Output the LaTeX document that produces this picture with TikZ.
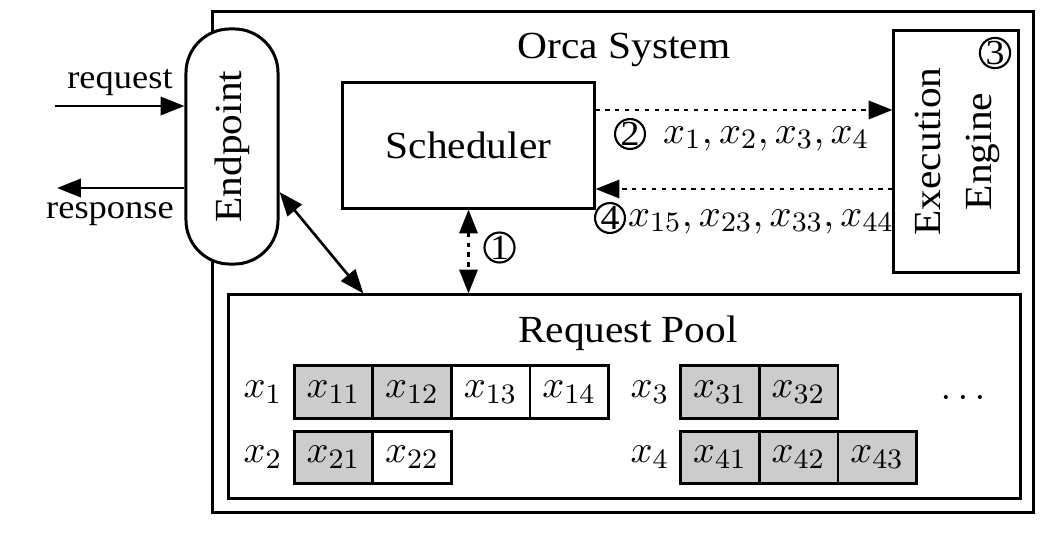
\documentclass[tikz,border=0pt]{standalone}
\usepackage[no-math]{fontspec}
\setmainfont{Liberation Serif}[FakeStretch=1.08]
\usepackage{tikz}
\usetikzlibrary{
  arrows.meta,
  positioning,
  calc
}
\definecolor{isDone}{HTML}{CCCCCC}

\tikzset{
  box/.style={draw, line width=0.85pt, fill=white, inner sep=0pt},
  cell/.style={draw, line width=0.75pt, minimum width=0.785cm, minimum height=0.525cm,
    inner sep=0pt, outer sep=0pt, font=\fontsize{11}{13}\selectfont},
  done/.style={cell, fill=isDone},
  todo/.style={cell, fill=white},
  num/.style={draw, circle, line width=0.6pt, minimum size=0.29cm, inner sep=0pt,
    font=\fontsize{10}{10}\selectfont},
  mlabel/.style={font=\fontsize{11}{13}\selectfont, inner sep=1pt},
  io/.style={font=\fontsize{9.6}{11}\selectfont},
  arr/.style={line width=0.75pt, -{Triangle[length=6.8pt,width=5.2pt]}},
  darr/.style={line width=0.75pt, {Triangle[length=6.8pt,width=5.2pt]}-{Triangle[length=6.8pt,width=5.2pt]}},
  dotline/.style={dash pattern=on 1.2pt off 1.6pt}
}

\begin{document}
\begin{tikzpicture}[x=0.01cm, y=-0.01cm, font=\fontsize{10.9}{13.5}\selectfont]
  \useasboundingbox (0,0) rectangle (1064,542);
  % system frame
  \node[box, minimum width=8.2cm, minimum height=5cm] (orca) at (623,262) {};
  \node (title) at (624,50) {Orca System};
  % endpoint
  \node[box, rounded corners=0.44cm, minimum width=0.92cm, minimum height=2.35cm]
    (endpoint) at (232,146.5) {\rotatebox{90}{Endpoint}};
  % scheduler and engine
  \node[box, minimum width=2.51cm, minimum height=1.25cm] (scheduler) at (468.5,145.5) {Scheduler};
  \node[box, minimum width=1.24cm, minimum height=2.41cm] (engine) at (956,151.5)
    {\rotatebox{90}{\begin{tabular}{@{}c@{}}Execution\\[1pt]Engine\end{tabular}}};
  \node[num] (n3) at (995,53) {3};
  % request pool
  \node[box, minimum width=7.91cm, minimum height=2.03cm] (pool) at (624.5,396.5) {};
  \node (pooltitle) at (628,333) {Request Pool};
  % row x1
  \node[mlabel] (r1) at (263,392) {$x_1$};
  \node[done] (c11) at (333.5,392) {$x_{11}$};
  \node[done, right=0pt of c11] (c12) {$x_{12}$};
  \node[todo, right=0pt of c12] (c13) {$x_{13}$};
  \node[todo, right=0pt of c13] (c14) {$x_{14}$};
  % row x2
  \node[mlabel] (r2) at (263,457.5) {$x_2$};
  \node[done] (c21) at (333.5,457.5) {$x_{21}$};
  \node[todo, right=0pt of c21] (c22) {$x_{22}$};
  % row x3
  \node[mlabel] (r3) at (650,392) {$x_3$};
  \node[done] (c31) at (720,392) {$x_{31}$};
  \node[done, right=0pt of c31] (c32) {$x_{32}$};
  \node[mlabel] (more) at (963,397) {$\dots$};
  % row x4
  \node[mlabel] (r4) at (650,457.5) {$x_4$};
  \node[done] (c41) at (720,457.5) {$x_{41}$};
  \node[done, right=0pt of c41] (c42) {$x_{42}$};
  \node[done, right=0pt of c42] (c43) {$x_{43}$};
  % request / response
  \coordinate (reqin) at (55,106);
  \draw[arr] (reqin) -- (reqin -| endpoint.west);
  \node[io] (reqlabel) at (120,83) {request};
  \coordinate (respout) at (57,188);
  \draw[arr] (respout -| endpoint.west) -- (respout);
  \node[io] (resplabel) at (110,214) {response};
  \draw[darr] ([yshift=-0.455cm]endpoint.east) -- ([xshift=1.36cm]pool.north west);
  % step 1
  \draw[darr, dotline] (scheduler.south) -- (scheduler.south |- pool.north);
  \node[num] (n1) at (499.5,247.5) {1};
  % step 2
  \coordinate (s2) at ([yshift=0.355cm]scheduler.east);
  \draw[arr, dotline] (s2) -- (s2 -| engine.west);
  \node[num] (n2) at (630,134) {2};
  \node[mlabel, anchor=base west] (batch) at (659,143) {$x_1, x_2, x_3, x_4$};
  % step 4
  \coordinate (s4) at ([yshift=-0.435cm]scheduler.east);
  \draw[arr, dotline] (s4 -| engine.west) -- (s4);
  \node[num] (n4) at (610,218) {4};
  \node[mlabel, anchor=base west] (result) at (624,226) {$x_{15}, x_{23}, x_{33}, x_{44}$};
\end{tikzpicture}
\end{document}
